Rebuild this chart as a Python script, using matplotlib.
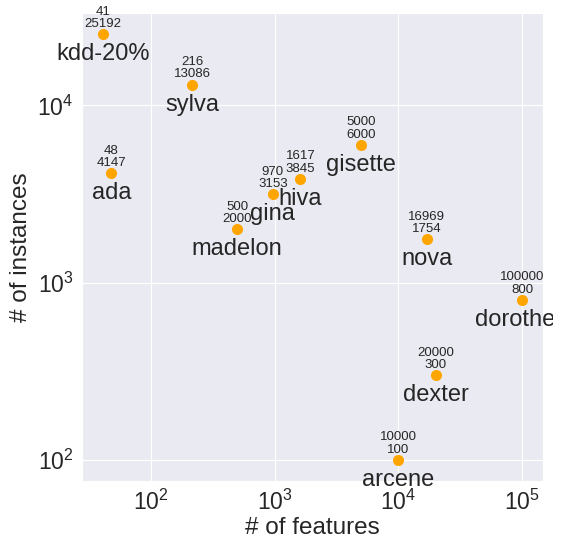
import matplotlib
matplotlib.use("Agg")
import matplotlib.pyplot as plt
import seaborn as sns
from matplotlib.transforms import Bbox

sns.set_style("darkgrid")
plt.rcParams["font.family"] = ["Liberation Sans", "DejaVu Sans"]

names = ["kdd-20%", "sylva", "ada", "gina", "hiva", "madelon",
         "gisette", "nova", "dorothea", "dexter", "arcene"]
n_features = [41, 216, 48, 970, 1617, 500, 5000, 16969, 100000, 20000, 10000]
n_instances = [25192, 13086, 4147, 3153, 3845, 2000, 6000, 1754, 800, 300, 100]

fig = plt.figure(figsize=(5.61, 5.40), dpi=100)
ax = fig.add_axes([0.146, 0.109, 0.822, 0.867])

ax.scatter(n_features, n_instances, s=64, color="orange", zorder=3, linewidths=0)
ax.set_xscale("log")
ax.set_yscale("log")
ax.tick_params(axis="both", labelsize=16.5, length=0, pad=6)
ax.set_xlabel("# of features", fontsize=17.5, color="#262626", labelpad=2)
ax.set_ylabel("# of instances", fontsize=17.5, color="#262626", labelpad=4)
ax.minorticks_off()

clip = Bbox.from_extents(0, 0, 553, 540)
for name, nf, ni in zip(names, n_features, n_instances):
    ax.annotate(f"{nf}\n{ni}", (nf, ni), xytext=(0, 3), textcoords="offset points",
                ha="center", va="bottom", fontsize=9.5, color="#262626",
                linespacing=1.05)
    t = ax.annotate(name, (nf, ni), xytext=(0, -6.5), textcoords="offset points",
                    ha="center", va="top", fontsize=17, color="#262626")
    t.set_clip_box(clip)
    t.set_clip_on(True)

fig.savefig("out.png", dpi=100)
